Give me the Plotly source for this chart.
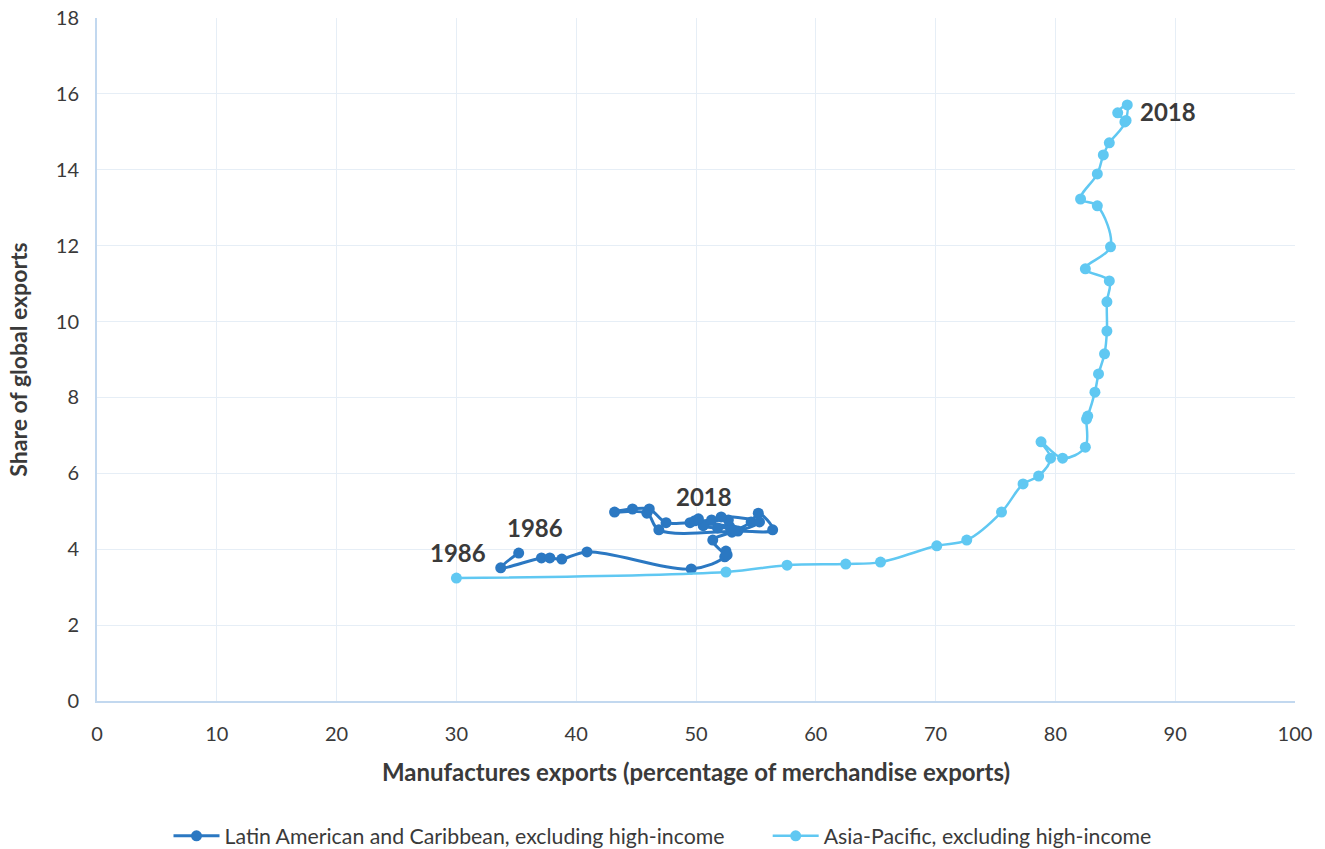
import plotly.graph_objects as go

years = list(range(1986, 2019))

# Latin American and Caribbean, excluding high-income
lac_x = [35.2, 33.7, 37.1, 37.8, 38.8, 40.9, 49.6, 52.4, 52.5, 52.6,
         51.4, 53.0, 54.6, 55.2, 56.4, 53.5, 46.9, 45.9, 43.2, 44.7,
         46.1, 47.5, 49.5, 52.8, 51.8, 50.6, 52.7, 53.2, 55.3, 52.1,
         51.3, 49.9, 50.2]
lac_y = [3.90, 3.51, 3.77, 3.77, 3.74, 3.93, 3.48, 3.80, 3.95, 3.85,
         4.24, 4.45, 4.72, 4.95, 4.51, 4.48, 4.51, 4.95, 4.98, 5.06,
         5.06, 4.70, 4.70, 4.60, 4.56, 4.62, 4.77, 4.50, 4.72, 4.85,
         4.77, 4.75, 4.80]

# Asia-Pacific, excluding high-income
ap_x = [30.0, 52.5, 57.6, 62.5, 65.4, 70.1, 72.6, 75.5, 77.3, 78.6,
        79.6, 78.8, 80.6, 82.5, 82.6, 82.7, 83.3, 83.6, 84.1, 84.3,
        84.3, 84.5, 82.5, 84.6, 83.5, 82.1, 83.5, 84.0, 84.5, 85.8,
        85.2, 86.0, 85.9]
ap_y = [3.24, 3.40, 3.58, 3.61, 3.66, 4.09, 4.24, 4.98, 5.72, 5.93,
        6.40, 6.83, 6.40, 6.69, 7.43, 7.51, 8.14, 8.62, 9.15, 9.75,
        10.52, 11.07, 11.39, 11.97, 13.05, 13.23, 13.89, 14.39, 14.71, 15.26,
        15.50, 15.71, 15.30]

dark = "#2B78C2"
light = "#60C8F2"
txt = "#3a3a3a"
pad = "\u00a0" * 7

fig = go.Figure()
fig.add_trace(go.Scatter(
    x=lac_x, y=lac_y, mode="lines+markers",
    name="Latin American and Caribbean, excluding high-income" + pad,
    line=dict(color=dark, width=3, shape="spline", smoothing=1.0),
    marker=dict(color=dark, size=11),
    text=years,
))
fig.add_trace(go.Scatter(
    x=ap_x, y=ap_y, mode="lines+markers",
    name="Asia-Pacific, excluding high-income",
    line=dict(color=light, width=2.5, shape="spline", smoothing=1.0),
    marker=dict(color=light, size=11),
    text=years,
))

# year labels at start / end of each path
labels = [
    (ap_x[0], ap_y[0], "1986", 2, 26),
    (lac_x[0], lac_y[0], "1986", 16, 26),
    (lac_x[-1], lac_y[-1], "2018", 6, 22),
    (ap_x[-1], ap_y[-1], "2018", 42, 9),
]
for x, y, t, dx, dy in labels:
    fig.add_annotation(x=x, y=y, text="<b>%s</b>" % t, showarrow=False,
                       xshift=dx, yshift=dy,
                       font=dict(family="Lato", size=24, color="#3a3a3a"))

# figure taller than the window so the legend fits without pushing the margins
fig.update_layout(
    width=1325, height=870,
    margin=dict(l=97, r=30, t=18, b=169),
    plot_bgcolor="white", paper_bgcolor="white",
    font=dict(family="Lato", size=20, color=txt),
    showlegend=True,
    legend=dict(orientation="h", x=(662.5 - 97) / 1198, xanchor="center",
                y=-135 / 683, yanchor="middle",
                font=dict(size=21.3, color=txt), itemwidth=46,
                tracegroupgap=0),
)
fig.update_xaxes(
    range=[0, 100], dtick=10, showgrid=True, gridcolor="#E6EEF6", gridwidth=1,
    zeroline=False, showline=True, linecolor="#C2D8EF", linewidth=2,
    ticks="", ticklabelstandoff=14, automargin=False, ticklabeloverflow="allow",
    title=dict(text="<b>Manufactures exports (percentage of merchandise exports)</b>",
               font=dict(size=24, color=txt), standoff=20),
)
fig.update_yaxes(
    range=[0, 18], dtick=2, showgrid=True, gridcolor="#E6EEF6", gridwidth=1,
    zeroline=False, showline=True, linecolor="#C2D8EF", linewidth=2,
    ticks="", ticklabelstandoff=12, automargin=False, ticklabeloverflow="allow",
    title=dict(text="<b>Share of global exports</b>",
               font=dict(size=23, color=txt), standoff=22),
)

# drop the browser's default body margin so the figure sits at the page corner
fig.write_html("out.html", config={"displayModeBar": False},
               post_script="document.body.style.margin = '0';")
